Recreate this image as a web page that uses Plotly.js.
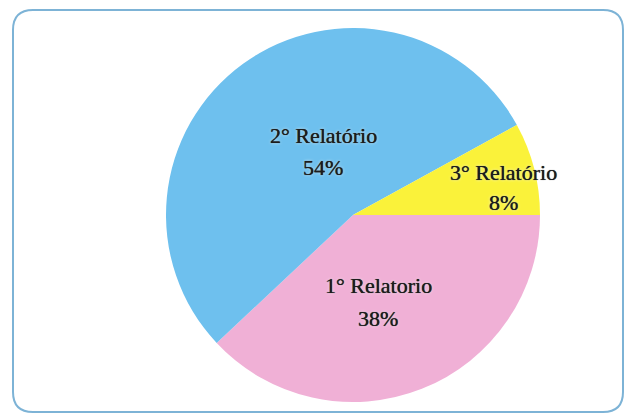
<!DOCTYPE html>
<html>
<head>
<meta charset="utf-8">
<script src="https://cdn.plot.ly/plotly-3.0.1.min.js"></script>
<style>html,body{margin:0;padding:0;background:#fff;}#chart{width:627px;height:414px;}</style>
</head>
<body>
<div id="chart"></div>
<script>
const labels = ['1° Relatorio', '2° Relatório', '3° Relatório'];
const values = [38, 54, 8];
const colors = ['#F0B0D6', '#6EC0EE', '#FAF23A'];

const W = 627, H = 414;
function px(x){return x / W;}
function py(y){return 1 - y / H;}
const x0 = 13, x1 = 623, y0 = 10, y1 = 412, r = 20;
const path = `M ${px(x0+r)} ${py(y0)} L ${px(x1-r)} ${py(y0)} Q ${px(x1)} ${py(y0)} ${px(x1)} ${py(y0+r)} ` +
  `L ${px(x1)} ${py(y1-r)} Q ${px(x1)} ${py(y1)} ${px(x1-r)} ${py(y1)} ` +
  `L ${px(x0+r)} ${py(y1)} Q ${px(x0)} ${py(y1)} ${px(x0)} ${py(y1-r)} ` +
  `L ${px(x0)} ${py(y0+r)} Q ${px(x0)} ${py(y0)} ${px(x0+r)} ${py(y0)} Z`;

const cx = 353, cy = 215, R = 187;
const data = [{
  type: 'pie',
  labels: labels,
  values: values,
  sort: false,
  direction: 'clockwise',
  rotation: 90,
  marker: {colors: colors, line: {width: 0}},
  textinfo: 'none',
  hoverinfo: 'label+percent',
  showlegend: false,
  domain: {x: [px(cx - R), px(cx + R)], y: [py(cy + R), py(cy - R)]}
}];

// label placement (pixel centres) for name line and percent line
const labelPlace = [
  {x: 378, yName: 285, yPct: 318},
  {x: 323, yName: 135, yPct: 167},
  {x: 503, yName: 172, yPct: 203}
];
const total = values.reduce((a, b) => a + b, 0);
const font = {family: 'Liberation Serif', size: 22, color: '#1c1c1c',
              shadow: '0 0 0.7px #1c1c1c, 0 0 3px rgba(255,255,255,0.85)'};
const annotations = [];
labels.forEach((lab, i) => {
  const p = labelPlace[i];
  annotations.push({xref: 'paper', yref: 'paper', x: px(p.x), y: py(p.yName),
    xanchor: 'center', yanchor: 'middle', showarrow: false, text: lab, font: font});
  annotations.push({xref: 'paper', yref: 'paper', x: px(p.x), y: py(p.yPct),
    xanchor: 'center', yanchor: 'middle', showarrow: false,
    text: Math.round(values[i] / total * 100) + '%', font: font});
});

const layout = {
  width: W, height: H,
  margin: {l: 0, r: 0, t: 0, b: 0},
  paper_bgcolor: '#fff',
  showlegend: false,
  annotations: annotations,
  shapes: [{type: 'path', xref: 'paper', yref: 'paper', path: path,
            line: {color: '#7DB3D6', width: 2}, fillcolor: 'rgba(0,0,0,0)'}]
};

Plotly.newPlot('chart', data, layout, {displayModeBar: false, staticPlot: true});
</script>
</body>
</html>
